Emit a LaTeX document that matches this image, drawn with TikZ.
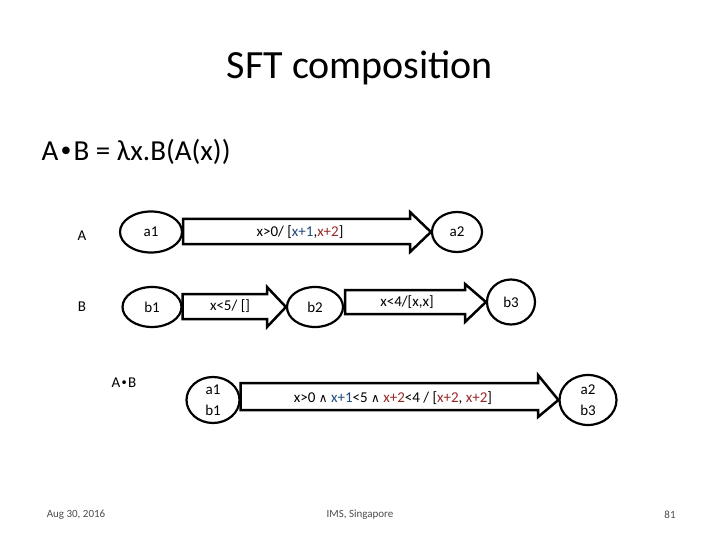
\documentclass[tikz,border=0pt]{standalone}
\usetikzlibrary{shapes.geometric}
\usepackage{fontspec}
\setmainfont{Carlito}
\newfontfamily\dvs{DejaVu Sans}
\definecolor{bl}{RGB}{31,73,125}
\definecolor{rd}{RGB}{150,40,40}
\begin{document}
\begin{tikzpicture}[x=1pt,y=-1pt,
  st/.style={draw,line width=2.2pt,shape=ellipse,inner sep=0pt,font=\fontsize{15}{17}\selectfont},
  lab/.style={font=\fontsize{15}{18}\selectfont},
  foot/.style={font=\fontsize{11}{13}\selectfont,text=black!70}]
\useasboundingbox (0,0) rectangle (720,540);
\node (title) at (360,68) {\fontsize{40}{46}\selectfont SFT composition};
\node[anchor=west] (form) at (38,152) {\fontsize{29}{34}\selectfont A{\dvs\fontsize{26}{30}\selectfont •}B = λx.B(A(x))};
\node[lab] (A) at (82,236) {A};
\node[lab] (B) at (82,307) {B};
\node[lab] (AB) at (124,383) {A{\dvs\fontsize{13}{15}\selectfont •}B};
% states
\node[st,minimum width=62pt,minimum height=41pt] (a1) at (151,232) {a1};
\node[st,minimum width=50pt,minimum height=40pt] (a2) at (457,232) {a2};
\node[st,minimum width=59pt,minimum height=40pt] (b1) at (152,307) {b1};
\node[st,minimum width=56pt,minimum height=40pt] (b2) at (315,307) {b2};
\node[st,minimum width=48pt,minimum height=45pt] (b3) at (511,302) {b3};
\node[st,minimum width=53pt,minimum height=46pt,align=center,font=\fontsize{15}{21}\selectfont] (c1) at (213,400) {a1\\b1};
\node[st,minimum width=57pt,minimum height=50pt,align=center,font=\fontsize{15}{21}\selectfont] (c2) at (588,400) {a2\\b3};
% block arrows
\draw[line width=2.5pt] (a1.east |- 0,219) -- (410,219) -- (410,212) -- (a2.west) -- (410,252) -- (410,244) -- (a1.east |- 0,244) -- cycle;
\node[lab] (l1) at (300,232) {x>0/ [{\color{bl}x+1},{\color{rd}x+2}]};
\draw[line width=2.5pt] (b1.east |- 0,294) -- (267,294) -- (267,287) -- (b2.west) -- (267,327) -- (267,319) -- (b1.east |- 0,319) -- cycle;
\node[lab] (l2) at (230,306) {x<5/ []};
\draw[line width=2.5pt] (345,290) -- (465,290) -- (465,284) -- (b3.west) -- (465,322) -- (465,314) -- (345,314) -- cycle;
\node[lab] (l3) at (407,302) {x<4/[x,x]};
\draw[line width=2.5pt] (c1.east |- 0,383) -- (538,383) -- (538,375) -- (c2.west) -- (538,417) -- (538,410) -- (c1.east |- 0,410) -- cycle;
\node[lab] (l4) at (393,398) {x>0 {\dvs\fontsize{12}{14}\selectfont ∧} {\color{bl}x+1}<5 {\dvs\fontsize{12}{14}\selectfont ∧} {\color{rd}x+2}<4 / [{\color{rd}x+2}, {\color{rd}x+2}]};
\node[foot] (f1) at (76,515) {Aug 30, 2016};
\node[foot] (f2) at (360,515) {IMS, Singapore};
\node[foot] (f3) at (670,515) {81};
\end{tikzpicture}
\end{document}
